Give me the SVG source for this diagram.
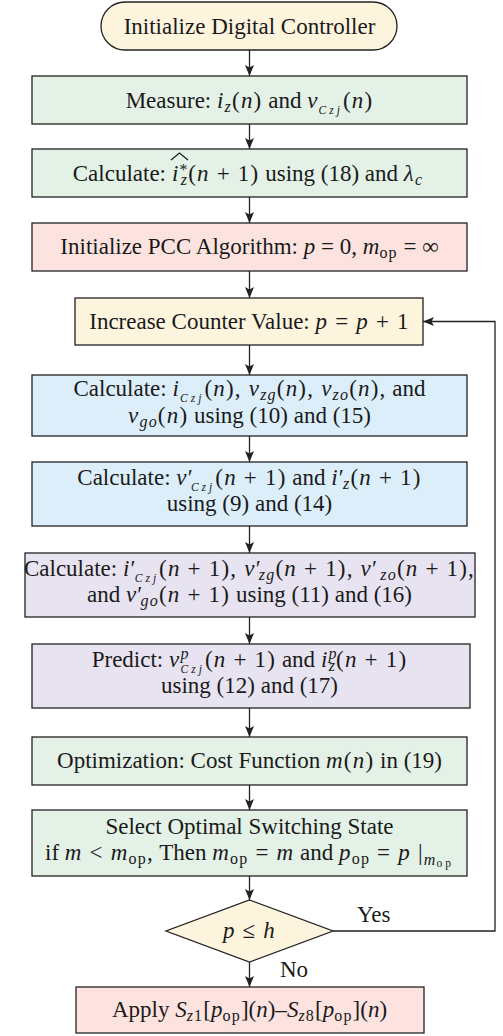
<svg xmlns="http://www.w3.org/2000/svg" width="503" height="1036" viewBox="0 0 503 1036">
<style>
.t{font-family:"Liberation Serif","Times New Roman",serif;font-size:23px;fill:#1a1a1a;text-anchor:middle}
.i{font-style:italic}
.m{letter-spacing:1.2px}
.s{font-size:16px;letter-spacing:1.2px}
.ss{font-size:11.5px;letter-spacing:3px}
.bx{stroke:#222;stroke-width:1.3}
.g{fill:#e3f1e6}.r{fill:#fde3df}.y{fill:#fdf4de}.b{fill:#dceefa}.p{fill:#e8e3f1}
.c{fill:none;stroke:#222;stroke-width:1.3}
</style>
<defs>
<marker id="ah" markerUnits="userSpaceOnUse" markerWidth="12" markerHeight="10" refX="11" refY="5" orient="auto"><path d="M0,0.5 L11,5 L0,9.5 L2.5,5 z" fill="#222"/></marker>
</defs>
<g id="connectors">
<path class="c" marker-end="url(#ah)" d="M249.5,50 V76"/>
<path class="c" marker-end="url(#ah)" d="M249.5,124 V149"/>
<path class="c" marker-end="url(#ah)" d="M249.5,197 V223"/>
<path class="c" marker-end="url(#ah)" d="M249.5,271 V298"/>
<path class="c" marker-end="url(#ah)" d="M249.5,345 V375"/>
<path class="c" marker-end="url(#ah)" d="M249.5,436 V462"/>
<path class="c" marker-end="url(#ah)" d="M249.5,526 V553"/>
<path class="c" marker-end="url(#ah)" d="M249.5,617 V644"/>
<path class="c" marker-end="url(#ah)" d="M249.5,708 V737"/>
<path class="c" marker-end="url(#ah)" d="M249.5,785 V810"/>
<path class="c" marker-end="url(#ah)" d="M249.5,876 V900"/>
<path class="c" marker-end="url(#ah)" d="M249.5,962 V987"/>
<path class="c" marker-end="url(#ah)" d="M333,931 H495 V321.5 H423"/>
<text class="t" x="357" y="922" style="text-anchor:start">Yes</text>
<text class="t" x="280" y="977" style="text-anchor:start">No</text>
</g>
<g id="start">
<rect class="bx y" x="101" y="2" width="296" height="48" rx="24"/>
<text class="t" x="249.5" y="33.5">Initialize Digital Controller</text>
</g>
<g id="measure">
<rect class="bx g" x="32" y="76" width="435" height="48"/>
<text class="t" x="249.5" y="107.5">Measure: <tspan class="m"><tspan class="i">i</tspan><tspan class="i s" dy="4">z</tspan><tspan dy="-4">(</tspan><tspan class="i">n</tspan>)</tspan> and <tspan class="m"><tspan class="i">v</tspan><tspan class="i ss" dy="6">Czj</tspan><tspan dy="-6">(</tspan><tspan class="i">n</tspan>)</tspan></text>
</g>
<g id="calc-ref">
<rect class="bx g" x="32" y="149" width="435" height="48"/>
<text class="t" x="166" y="180.5" style="text-anchor:end">Calculate:</text>
<text class="t" x="172" y="180.5" style="text-anchor:start"><tspan class="m"><tspan class="i">i</tspan><tspan class="s" dy="-6">*</tspan><tspan class="i s" dx="-8" dy="10">z</tspan><tspan dy="-4">(</tspan><tspan class="i">n</tspan> + 1)</tspan> using (18) and <tspan class="m"><tspan class="i">λ</tspan><tspan class="i s" dy="4">c</tspan></tspan></text>
<polyline points="171,160 179.5,153 188,160" fill="none" stroke="#1a1a1a" stroke-width="1.2"/>
</g>
<g id="init-pcc">
<rect class="bx r" x="32" y="223" width="435" height="48"/>
<text class="t" x="249.5" y="254">Initialize PCC Algorithm: <tspan class="i">p</tspan> = 0, <tspan class="i">m</tspan><tspan class="s" dy="4">op</tspan><tspan dy="-4"> = ∞</tspan></text>
</g>
<g id="increase">
<rect class="bx y" x="75" y="298" width="348" height="47"/>
<text class="t" x="249.5" y="329">Increase Counter Value: <tspan class="m"><tspan class="i">p</tspan> = <tspan class="i">p</tspan> + 1</tspan></text>
</g>
<g id="calc1">
<rect class="bx b" x="32" y="375" width="435" height="61"/>
<text class="t" x="249.5" y="396">Calculate: <tspan class="m"><tspan class="i">i</tspan><tspan class="i ss" dy="6">Czj</tspan><tspan dy="-6">(</tspan><tspan class="i">n</tspan>), <tspan class="i">v</tspan><tspan class="i s" dy="4">zg</tspan><tspan dy="-4">(</tspan><tspan class="i">n</tspan>), <tspan class="i">v</tspan><tspan class="i s" dy="4">zo</tspan><tspan dy="-4">(</tspan><tspan class="i">n</tspan>),</tspan> and</text>
<text class="t" x="249.5" y="422.5"><tspan class="m"><tspan class="i">v</tspan><tspan class="i s" dy="4">go</tspan><tspan dy="-4">(</tspan><tspan class="i">n</tspan>)</tspan> using (10) and (15)</text>
</g>
<g id="calc2">
<rect class="bx b" x="32" y="462" width="435" height="64"/>
<text class="t" x="249.5" y="484.5">Calculate: <tspan class="m"><tspan class="i">v</tspan>′<tspan class="i ss" dx="-3" dy="6">Czj</tspan><tspan dy="-6">(</tspan><tspan class="i">n</tspan> + 1)</tspan> and <tspan class="m"><tspan class="i">i</tspan>′<tspan class="i s" dx="-2" dy="4">z</tspan><tspan dy="-4">(</tspan><tspan class="i">n</tspan> + 1)</tspan></text>
<text class="t" x="249.5" y="511">using (9) and (14)</text>
</g>
<g id="calc3">
<rect class="bx p" x="25" y="553" width="450" height="64"/>
<text class="t" x="249.5" y="575.5">Calculate: <tspan class="m"><tspan class="i">i</tspan>′<tspan class="i ss" dx="-2" dy="6">Czj</tspan><tspan dy="-6">(</tspan><tspan class="i">n</tspan> + 1), <tspan class="i">v</tspan>′<tspan class="i s" dx="-3" dy="4">zg</tspan><tspan dy="-4">(</tspan><tspan class="i">n</tspan> + 1), <tspan class="i">v</tspan>′<tspan class="i s" dx="2" dy="4">zo</tspan><tspan dy="-4">(</tspan><tspan class="i">n</tspan> + 1),</tspan></text>
<text class="t" x="249.5" y="602">and <tspan class="m"><tspan class="i">v</tspan>′<tspan class="i s" dx="-3" dy="4">go</tspan><tspan dy="-4">(</tspan><tspan class="i">n</tspan> + 1)</tspan> using (11) and (16)</text>
</g>
<g id="predict">
<rect class="bx p" x="32" y="644" width="438" height="64"/>
<text class="t" x="249.5" y="666.5">Predict: <tspan class="m"><tspan class="i">v</tspan><tspan class="i s" dy="-8">p</tspan><tspan class="i ss" dx="-9" dy="14">Czj</tspan><tspan dy="-6">(</tspan><tspan class="i">n</tspan> + 1)</tspan> and <tspan class="m"><tspan class="i">i</tspan><tspan class="i s" dy="-8">p</tspan><tspan class="i s" dx="-9" dy="12">z</tspan><tspan dy="-4">(</tspan><tspan class="i">n</tspan> + 1)</tspan></text>
<text class="t" x="249.5" y="693">using (12) and (17)</text>
</g>
<g id="optimize">
<rect class="bx g" x="32" y="737" width="435" height="48"/>
<text class="t" x="249.5" y="768">Optimization: Cost Function <tspan class="m"><tspan class="i">m</tspan>(<tspan class="i">n</tspan>)</tspan> in (19)</text>
</g>
<g id="select">
<rect class="bx g" x="32" y="810" width="435" height="66"/>
<text class="t" x="249.5" y="833.5">Select Optimal Switching State</text>
<text class="t" x="249.5" y="860">if <tspan class="m"><tspan class="i">m</tspan> &lt; <tspan class="i">m</tspan><tspan class="s" dy="4">op</tspan><tspan dy="-4">,</tspan></tspan> Then <tspan class="m"><tspan class="i">m</tspan><tspan class="s" dy="4">op</tspan><tspan dy="-4"> = </tspan><tspan class="i">m</tspan></tspan> and <tspan class="m"><tspan class="i">p</tspan><tspan class="s" dy="4">op</tspan><tspan dy="-4"> = </tspan><tspan class="i">p</tspan> |<tspan class="i s" dy="5">m</tspan><tspan class="ss" dy="2">op</tspan></tspan></text>
</g>
<g id="decision">
<polygon class="bx y" points="249.5,900 333,931 249.5,962 166,931"/>
<text class="t" x="249.5" y="938"><tspan class="m"><tspan class="i">p</tspan> ≤ <tspan class="i">h</tspan></tspan></text>
</g>
<g id="apply">
<rect class="bx r" x="76" y="987" width="348" height="46"/>
<text class="t" x="249.5" y="1017">Apply <tspan class="i">S</tspan><tspan class="i s" dy="4">z</tspan><tspan class="s">1</tspan><tspan dy="-4">[</tspan><tspan class="i">p</tspan><tspan class="s" dy="4">op</tspan><tspan dy="-4">](</tspan><tspan class="i">n</tspan>)–<tspan class="i">S</tspan><tspan class="i s" dy="4">z</tspan><tspan class="s">8</tspan><tspan dy="-4">[</tspan><tspan class="i">p</tspan><tspan class="s" dy="4">op</tspan><tspan dy="-4">](</tspan><tspan class="i">n</tspan>)</text>
</g>
</svg>
